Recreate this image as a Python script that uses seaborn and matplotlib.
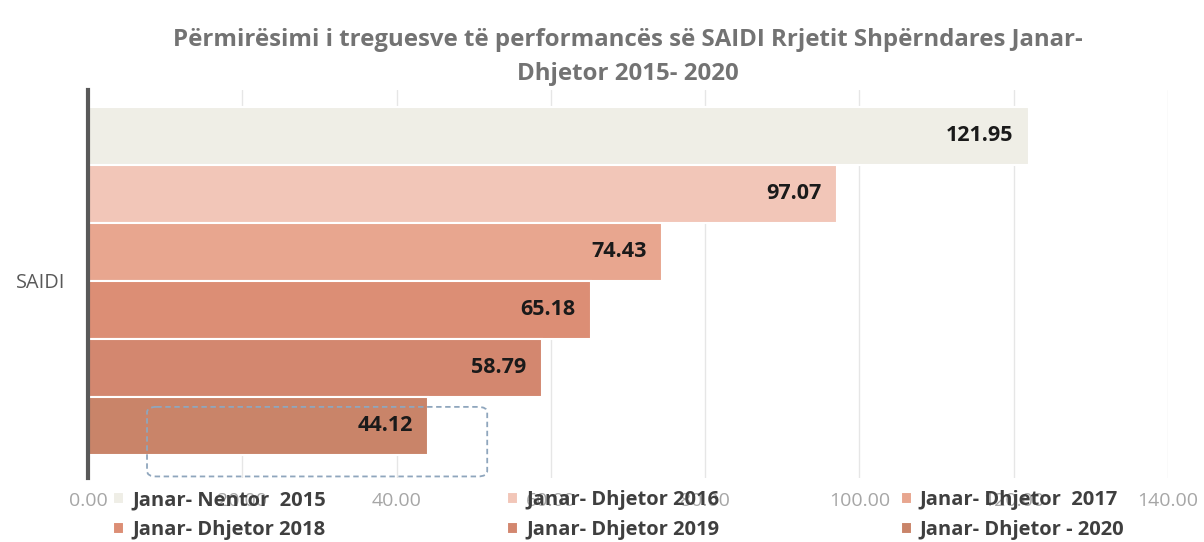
import matplotlib.pyplot as plt
import seaborn as sns
import pandas as pd
from matplotlib.patches import FancyBboxPatch


# ___ Data ___

category = ["SAIDI"]
series = ["Janar- Nentor  2015", "Janar- Dhjetor 2016", "Janar- Dhjetor  2017",
          "Janar- Dhjetor 2018", "Janar- Dhjetor 2019", "Janar- Dhjetor - 2020"]
values = [121.95, 97.07, 74.43, 65.18, 58.79, 44.12]
colors = ["#EFEEE6", "#F2C6B8", "#E8A68F", "#DC8E75", "#D3876F", "#C98469"]
x_ticks = [0, 20, 40, 60, 80, 100, 120, 140]

title = ("Përmirësimi i treguesve të performancës së SAIDI Rrjetit Shpërndares Janar-\n"
         "Dhjetor 2015- 2020")

df = pd.DataFrame({"kategoria": category * len(series), "seria": series, "vlera": values})

# ___ Plot ___

sns.set_theme(style="white")
plt.rcParams["font.family"] = ["Open Sans", "DejaVu Sans"]

fig = plt.figure(figsize=(12.04, 5.42), dpi=100, facecolor="white")
ax = fig.add_axes([88 / 1204, 1 - 478 / 542, 1080 / 1204, 388 / 542])

sns.barplot(data=df, x="vlera", y="kategoria", hue="seria", orient="h",
            palette=colors, saturation=1, width=0.9, edgecolor="white",
            linewidth=1.5, legend=True, ax=ax, zorder=2)

ax.set_xlim(0, 140)
ax.set_ylim(0.51, -0.494)
ax.set_xticks(x_ticks)
ax.set_xticklabels([f"{t:.2f}" for t in x_ticks], color="#A6A6A6", fontsize=14)
ax.tick_params(axis="x", length=0, pad=10)
ax.tick_params(axis="y", length=0, pad=16, labelsize=14.3, labelcolor="#595959")
ax.set_xlabel("")
ax.set_ylabel("")
ax.grid(axis="x", color="#E6E6E6", linewidth=1, zorder=0)
ax.set_axisbelow(True)

sns.despine(ax=ax, top=True, right=True, bottom=True, left=False)
ax.spines["left"].set_color("#595959")
ax.spines["left"].set_linewidth(3)

# value labels inside bar ends
for c in ax.containers:
    texts = ax.bar_label(c, fmt="%.2f", padding=-11, fontsize=15.5,
                         fontweight="bold", color="#1A1A1A")
    for t in texts:
        t.set_ha("right")

# dashed highlight box
ax.add_patch(FancyBboxPatch((7.65, 0.326), 44.1, 0.18,
                            boxstyle="round,pad=0,rounding_size=1.2",
                            mutation_aspect=0.012,
                            fill=False, edgecolor="#8FA6BD", linestyle=(0, (3, 2)),
                            linewidth=1.3, zorder=4, clip_on=False))

ax.set_title(title, fontsize=17.3, fontweight="bold", color="#737373",
             pad=7, linespacing=1.55)

# legend, row-wise order in 3 columns
handles, labels = ax.get_legend_handles_labels()
ax.get_legend().remove()
order = [0, 3, 1, 4, 2, 5]
fig.legend([handles[i] for i in order], [labels[i] for i in order],
           loc="upper left", bbox_to_anchor=(103 / 1204, 1 - 480 / 542),
           ncol=3, frameon=False,
           prop={"weight": "bold", "size": 14.5},
           handlelength=0.55, handleheight=0.55, handletextpad=0.4,
           columnspacing=9.0, labelspacing=0.5, borderpad=0,
           labelcolor="#3F3F3F")

fig.savefig("out.png", dpi=100, facecolor="white")
